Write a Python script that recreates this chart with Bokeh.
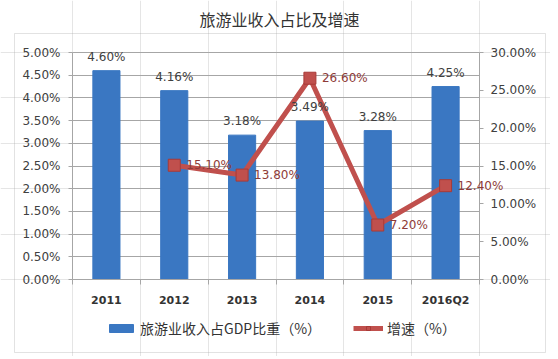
from bokeh.plotting import figure
from bokeh.models import (Range1d, LinearAxis, FixedTicker, PrintfTickFormatter, Grid,
                          ColumnDataSource, Legend, LegendItem, Label, BoxAnnotation, LabelSet)
from bokeh.core.properties import value
from bokeh.embed import file_html
from bokeh.resources import INLINE

title_text = "旅游业收入占比及增速"
categories = ["2011", "2012", "2013", "2014", "2015", "2016Q2"]
share = [4.60, 4.16, 3.18, 3.49, 3.28, 4.25]          # 旅游业收入占GDP比重（%）
growth_cats = ["2012", "2013", "2014", "2015", "2016Q2"]
growth = [15.10, 13.80, 26.60, 7.20, 12.40]           # 增速（%）
left_ticks = [0, 0.5, 1, 1.5, 2, 2.5, 3, 3.5, 4, 4.5, 5]
right_ticks = [0, 5, 10, 15, 20, 25, 30]
legend_share = "旅游业收入占GDP比重（%）"
legend_growth = "增速（%）"

BAR = "#3A77C2"
RED = "#C0504D"
LBL_RED = "#8E3B38"
GRID = "#A6A6A6"
TXT = "#404040"
NUM_FONT = "DejaVu Sans"
CJK_FONT = "Noto Sans CJK SC"

# canvas / plot-area geometry in pixels (layout only)
W, H = 550, 356
PX_L, PX_R, PX_T, PX_B = 72, 479, 52, 279

n = len(categories)
ymax_l, ymax_r = left_ticks[-1], right_ticks[-1]
xs = n / (PX_R - PX_L)
ysl = ymax_l / (PX_B - PX_T)
ysr = ymax_r / (PX_B - PX_T)
x_range = Range1d(-PX_L * xs, n + (W - PX_R) * xs)
y_range = Range1d(-(H - PX_B) * ysl, ymax_l + PX_T * ysl)
g_range = Range1d(-(H - PX_B) * ysr, ymax_r + PX_T * ysr)

pos = {c: i + 0.5 for i, c in enumerate(categories)}

bar_src = ColumnDataSource(dict(
    x=[pos[c] for c in categories], y=share,
    lbl=["%.2f%%" % v for v in share]))
line_src = ColumnDataSource(dict(
    x=[pos[c] for c in growth_cats], y=growth,
    lbl=["%.2f%%" % v for v in growth]))

p = figure(width=W, height=H, output_backend="svg", toolbar_location=None,
           x_range=x_range, y_range=y_range, x_axis_location=None, y_axis_location=None,
           min_border=0)
p.min_border_left = p.min_border_right = p.min_border_top = p.min_border_bottom = 0
p.extra_y_ranges = {"g": g_range}
p.outline_line_color = None
p.background_fill_color = "white"
p.border_fill_color = "white"

# grid lines restricted to plot area
if "cross_bounds" in Grid.properties():
    grid = Grid(dimension=1, ticker=FixedTicker(ticks=left_ticks), grid_line_color=GRID,
                bounds=(0, ymax_l), cross_bounds=(0, n))
    p.add_layout(grid)
else:
    p.segment(x0=[0] * len(left_ticks), x1=[n] * len(left_ticks), y0=left_ticks, y1=left_ticks,
              line_color=GRID, line_width=1)

# outer box and title (screen units)
p.add_layout(BoxAnnotation(left=14, right=545, top=H - 33, bottom=H - 352,
                           left_units="screen", right_units="screen",
                           top_units="screen", bottom_units="screen",
                           fill_alpha=0, line_color="#A0A0A0", line_width=1, level="underlay"))
p.add_layout(Label(x=279, y=H - 18, x_units="screen", y_units="screen", text=title_text,
                   text_align="center", text_baseline="middle", text_font=CJK_FONT,
                   text_font_size="16px", text_color="#333333"))

# bars
bars = p.vbar(x="x", top="y", width=0.4, source=bar_src, color=BAR, line_color=BAR)
p.add_layout(LabelSet(x="x", y="y", text="lbl", source=bar_src, text_align="center",
                      text_baseline="bottom", y_offset=7, text_font=value(NUM_FONT),
                      text_font_size="12px", text_color=TXT))

# line
ln = p.line(x="x", y="y", source=line_src, y_range_name="g", line_color=RED, line_width=5)
sq = p.scatter(x="x", y="y", source=line_src, y_range_name="g", marker="square", size=12,
               fill_color=RED, line_color="#A83A37", line_width=1)
p.add_layout(LabelSet(x="x", y="y", text="lbl", source=line_src, y_range_name="g",
                      text_align="left", text_baseline="middle", x_offset=12,
                      text_font=value(NUM_FONT), text_font_size="12px", text_color=LBL_RED))

# x axis (fixed at y=0, bounded to plot area)
xa = LinearAxis(fixed_location=0, bounds=(0, n),
                ticker=FixedTicker(ticks=[pos[c] for c in categories],
                                   minor_ticks=list(range(n + 1))))
xa.major_label_overrides = {pos[c]: c for c in categories}
xa.major_tick_line_color = None
xa.major_tick_in = 0
xa.major_tick_out = 0
xa.minor_tick_in = 0
xa.minor_tick_out = 5
xa.minor_tick_line_color = GRID
xa.axis_line_color = GRID
xa.major_label_standoff = 9
xa.major_label_text_font = NUM_FONT
xa.major_label_text_font_size = "11px"
xa.major_label_text_font_style = "bold"
xa.major_label_text_color = "#333333"
p.add_layout(xa, "below")

# left axis
ya = LinearAxis(fixed_location=0, bounds=(0, ymax_l),
                ticker=FixedTicker(ticks=left_ticks, minor_ticks=[]),
                formatter=PrintfTickFormatter(format="%.2f%%"))
ya.axis_line_color = GRID
ya.major_tick_line_color = GRID
ya.major_tick_in = 0
ya.major_tick_out = 4
ya.minor_tick_line_color = None
ya.major_label_standoff = 8
ya.major_label_text_font = NUM_FONT
ya.major_label_text_font_size = "12px"
ya.major_label_text_color = TXT
p.add_layout(ya, "left")

# right axis
ra = LinearAxis(y_range_name="g", fixed_location=n, bounds=(0, ymax_r),
                ticker=FixedTicker(ticks=right_ticks, minor_ticks=[]),
                formatter=PrintfTickFormatter(format="%.2f%%"))
ra.axis_line_color = GRID
ra.major_tick_line_color = GRID
ra.major_tick_in = 0
ra.major_tick_out = 4
ra.minor_tick_line_color = None
ra.major_label_standoff = 7
ra.major_label_text_font = NUM_FONT
ra.major_label_text_font_size = "12px"
ra.major_label_text_color = TXT
p.add_layout(ra, "right")

# legend
legend = Legend(items=[LegendItem(label=legend_share, renderers=[bars]),
                       LegendItem(label=legend_growth, renderers=[ln, sq])],
                orientation="horizontal", location=(106, H - 328 - 10),
                border_line_color=None, background_fill_alpha=0,
                label_text_font=CJK_FONT, label_text_font_size="14px", label_text_color="#333333",
                glyph_width=30, glyph_height=10, spacing=32, label_standoff=4,
                padding=6, margin=0)
p.add_layout(legend, "center")

open("out.html", "w").write(file_html(p, INLINE))
